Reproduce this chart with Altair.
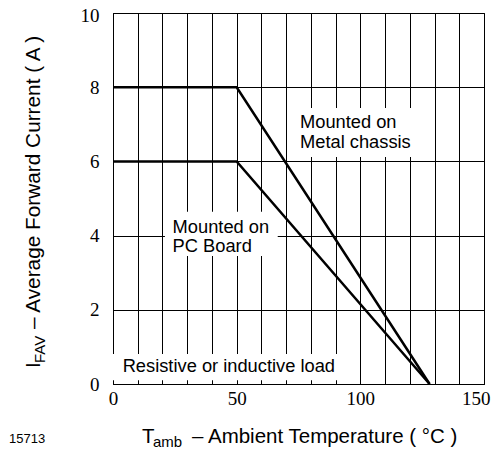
import altair as alt
import pandas as pd

# Derating curves
series = ["Metal chassis", "Metal chassis", "Metal chassis", "PC Board", "PC Board", "PC Board"]
temps = [0, 50, 128, 0, 50, 128]
currents = [8, 8, 0, 6, 6, 0]

# Annotation boxes (white background behind labels) in data coordinates
box_x1 = [75, 21, 0]
box_x2 = [124, 66.6, 94]
box_y1 = [7.44, 4.64, 0.81]
box_y2 = [6.12, 3.45, 0.1]

# Annotation text lines
ann_text = ["Mounted on", "Metal chassis", "Mounted on", "PC Board", "Resistive or inductive load"]
ann_x = [75.6, 75.6, 24.1, 24.1, 3.9]
ann_y = [6.90, 6.36, 4.07, 3.56, 0.33]

x_ticks = list(range(0, 151, 10))
y_ticks = [0, 2, 4, 6, 8, 10]

W, H = 371, 371
SERIF = "Times New Roman"

lines_df = pd.DataFrame({"series": series, "t": temps, "i": currents})
box_df = pd.DataFrame({"x1": box_x1, "x2": box_x2, "y1": box_y1, "y2": box_y2})
ann_df = pd.DataFrame({"text": ann_text, "x": ann_x, "y": ann_y})

xscale = alt.Scale(domain=[0, 150], nice=False, zero=False)
yscale = alt.Scale(domain=[0, 10], nice=False)

xaxis = alt.Axis(values=x_ticks, labelExpr="datum.value % 50 == 0 ? datum.label : ''",
                 title=None, grid=True, ticks=False, labelFont=SERIF,
                 labelFontSize=19, labelColor="black", labelPadding=5,
                 labelAlign={"condition": {"test": "datum.value == 150", "value": "right"}, "value": "center"},
                 labelOffset={"condition": {"test": "datum.value == 150", "value": 6}, "value": 0},
                 gridColor="black", gridOpacity=1, gridWidth=1,
                 domainColor="black", labelFlush=False, labelOverlap=False)
yaxis = alt.Axis(values=y_ticks, title=None, grid=True, ticks=False,
                 labelFont=SERIF, labelFontSize=19, labelColor="black",
                 labelPadding=14, gridColor="black", gridOpacity=1, gridWidth=1,
                 labelOffset={"condition": {"test": "datum.value == 10", "value": 2}, "value": 0},
                 domainColor="black", labelFlush=False, labelOverlap=False)

boxes = alt.Chart(box_df).mark_rect(color="white").encode(
    x=alt.X("x1:Q", scale=xscale, axis=xaxis), x2="x2:Q",
    y=alt.Y("y1:Q", scale=yscale, axis=yaxis), y2="y2:Q",
)

lines = alt.Chart(lines_df).mark_line(color="black", strokeWidth=2.5).encode(
    x=alt.X("t:Q", scale=xscale, axis=xaxis),
    y=alt.Y("i:Q", scale=yscale, axis=yaxis),
    detail="series:N",
)

anns = alt.Chart(ann_df).mark_text(align="left", baseline="alphabetic",
                                   font="Liberation Sans", fontSize=18.3,
                                   color="black").encode(
    x=alt.X("x:Q", scale=xscale, axis=xaxis),
    y=alt.Y("y:Q", scale=yscale, axis=yaxis),
    text="text:N",
)

# Axis titles with subscripts (pixel offsets relative to plot area)
def txt(s, x, y, size, angle=0, font="Liberation Sans"):
    d = pd.DataFrame({"s": [s]})
    return alt.Chart(d).mark_text(align="left", baseline="alphabetic", font=font,
                                  fontSize=size, angle=angle, color="black").encode(
        x=alt.value(x), y=alt.value(y), text="s:N")

titles = [
    txt("T", 29, 430, 20.5),
    txt("amb", 40, 434, 15),
    txt("– Ambient Temperature ( °C )", 79, 430, 20.5),
    txt("I", -73, 355, 20.5, angle=270),
    txt("FAV", -68, 350, 15, angle=270),
    txt("– Average Forward Current ( A )", -73, 316, 20.8, angle=270),
    txt("15713", -104, 430, 13),
]

chart = alt.layer(boxes, lines, anns, *titles).properties(
    width=W, height=H,
    autosize=alt.AutoSizeParams(type="none"),
    padding={"left": 105, "top": 5, "right": 8, "bottom": 66},
).configure_view(stroke="black", strokeWidth=1).configure_axis(
    domainWidth=1, labelFont=SERIF, labelFontSize=19)

chart.save("out.html", embed_options={"renderer": "svg", "actions": False})
